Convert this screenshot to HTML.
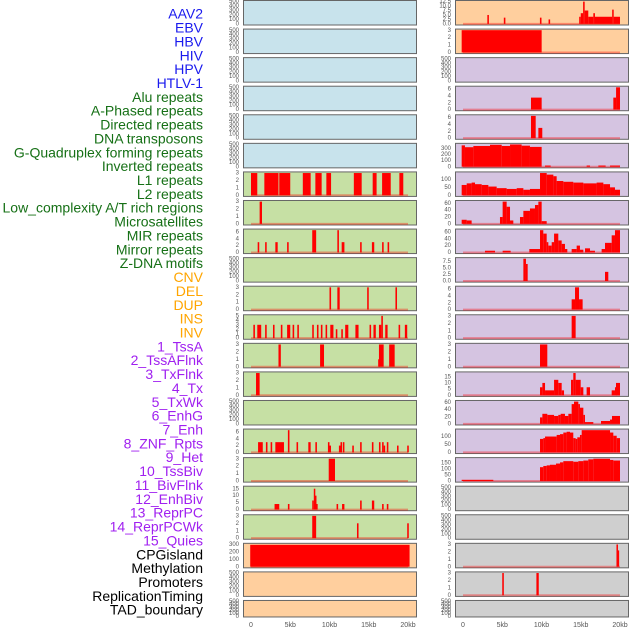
<!DOCTYPE html>
<html><head><meta charset="utf-8"><style>
body{margin:0;background:#fff;}
svg{display:block;font-family:"Liberation Sans",sans-serif;}
</style></head><body>
<svg id="chart" width="630" height="630" viewBox="0 0 630 630"></svg>
<script>
const labels=["AAV2","EBV","HBV","HIV","HPV","HTLV-1","Alu repeats","A-Phased repeats","Directed repeats","DNA transposons","G-Quadruplex forming repeats","Inverted repeats","L1 repeats","L2 repeats","Low_complexity A/T rich regions","Microsatellites","MIR repeats","Mirror repeats","Z-DNA motifs","CNV","DEL","DUP","INS","INV","1_TssA","2_TssAFlnk","3_TxFlnk","4_Tx","5_TxWk","6_EnhG","7_Enh","8_ZNF_Rpts","9_Het","10_TssBiv","11_BivFlnk","12_EnhBiv","13_ReprPC","14_ReprPCWk","15_Quies","CPGisland","Methylation","Promoters","ReplicationTiming","TAD_boundary"];
const labelColors=["#1a1aee","#1a1aee","#1a1aee","#1a1aee","#1a1aee","#1a1aee","#167016","#167016","#167016","#167016","#167016","#167016","#167016","#167016","#167016","#167016","#167016","#167016","#167016","#ffa500","#ffa500","#ffa500","#ffa500","#ffa500","#a020f0","#a020f0","#a020f0","#a020f0","#a020f0","#a020f0","#a020f0","#a020f0","#a020f0","#a020f0","#a020f0","#a020f0","#a020f0","#a020f0","#a020f0","#000","#000","#000","#000","#000"];
const xTickValues=[0,5,10,15,20];
const xTickLabels=["0","5kb","10kb","15kb","20kb"];
const leftBg=["#c8e3ec","#c8e3ec","#c8e3ec","#c8e3ec","#c8e3ec","#c8e3ec","#c6e0a4","#c6e0a4","#c6e0a4","#c6e0a4","#c6e0a4","#c6e0a4","#c6e0a4","#c6e0a4","#c6e0a4","#c6e0a4","#c6e0a4","#c6e0a4","#c6e0a4","#ffcf9e","#ffcf9e","#ffcf9e"];
const rightBg=["#ffcf9e","#ffcf9e","#d5c4e1","#d5c4e1","#d5c4e1","#d5c4e1","#d5c4e1","#d5c4e1","#d5c4e1","#d5c4e1","#d5c4e1","#d5c4e1","#d5c4e1","#d5c4e1","#d5c4e1","#d5c4e1","#d5c4e1","#cfcfcf","#cfcfcf","#cfcfcf","#cfcfcf","#cfcfcf"];
const E=[0,100,200,300,400,500], T3=[0,1,2,3], T6=[0,2,4,6];
const leftTicks=[E,E,E,E,E,E,T3,T3,T6,E,T3,[0,1,2,3,4,5],T3,T3,E,T6,T3,[0,5,10,15],T3,[0,100,200,300],E,E];
const leftMax=[500,500,500,500,500,500,3,3,6.5,500,3,5,3,3,500,6.5,3,16,3,300,500,500];
const leftBars=[[],[],[],[],[],[],
[[0,0.8,3],[1.7,3.5,3],[3.6,5.0,3],[6.6,7.6,3],[8.2,9.0,3],[9.6,10.2,3],[13.1,14.1,3],[15.5,16.0,3],[16.7,17.8,3],[18.9,19.4,3]],
[[1.1,1.4,3]],
[[0.85,1.05,3],[1.8,2.0,3],[3.1,3.4,3],[4.6,4.8,3],[7.8,8.3,6.5],[11.0,11.2,6.5],[11.55,11.9,3],[13.9,14.1,3],[15.4,15.7,3],[16.7,16.9,3],[17.4,17.6,3]],
[],
[[10.0,10.2,3],[11.0,11.3,3],[14.8,15.0,3],[18.4,18.6,3]],
[[0.3,0.5,3],[0.8,1.3,3],[1.8,2.0,3],[2.8,3.0,3],[3.8,4.0,3],[4.6,5.0,3],[5.3,5.5,3],[5.9,6.1,3],[7.8,8.0,3],[8.4,8.6,3],[8.9,9.1,3],[9.5,9.7,3],[10.1,10.5,3],[10.8,11.0,2],[11.5,11.7,2],[12.0,12.4,3],[13.3,13.7,3],[15.1,15.3,3],[15.6,15.9,3],[16.3,16.6,3],[16.6,16.8,5],[17.1,17.4,3],[18.8,19.0,3],[19.6,19.9,3]],
[[3.5,3.8,3],[8.8,9.3,3],[16.2,16.3,1],[16.3,16.9,3],[17.6,18.3,3]],
[[0.64,1.1,3]],
[],
[[0.9,1.5,3],[1.9,2.1,3],[2.5,2.7,3],[3.1,4.2,3],[4.7,4.9,6.5],[5.8,6.0,3],[7.3,7.6,3],[8.2,8.4,3],[9.8,10.0,3],[10.0,10.1,2],[11.2,11.4,2],[11.4,11.6,3],[11.7,11.9,3],[12.9,13.1,2],[13.9,14.1,3],[15.4,15.6,3],[16.3,16.5,3],[16.7,16.9,3],[16.9,17.0,2],[17.3,17.5,3],[18.6,18.8,2],[19.9,20.1,2]],
[[9.9,10.7,3]],
[[3.0,3.6,4],[4.7,4.9,4],[7.8,8.0,6.5],[8.0,8.15,15],[8.15,8.3,10],[8.3,8.4,4],[10.9,11.1,4],[11.6,11.9,4],[13.9,14.1,6.5],[15.4,15.7,6.5],[16.7,16.9,4],[17.3,17.5,4]],
[[7.8,8.3,3],[13.5,13.7,2],[19.9,20.1,2]],
[[-0.1,20.2,295]],
[],[]];
const rightTicks=[[0,2.5,5,7.5,10,12.5],T3,E,T6,T6,[0,100,200,300],[0,50,100],[0,20,40,60],[0,20,40,60],[0,2.5,5,7.5],T6,T3,T3,[0,5,10,15],[0,20,40,60],[0,50,100],[0,50,100,150],E,E,T3,T3,E];
const rightTickLabels=[["0.0","2.5","5.0","7.5","10.0","12.5"],null,null,null,null,null,null,null,null,["0.0","2.5","5.0","7.5"],null,null,null,null,null,null,null,null,null,null,null,null];
const rightMax=[12.5,3,500,6.5,6.5,365,140,65,65,8.5,6.5,3,3,18,62,140,185,500,500,3,3,500];
const rightBars=[
[[3.1,3.3,5],[5.2,5.4,3.5],[9.8,10.0,3.5],[10.9,11.1,2.5],[14.8,15.0,4],[15.0,15.3,6],[15.3,15.5,12.5],[15.5,15.96,7.5],[15.96,16.6,4],[16.6,16.81,6],[16.81,19.0,4],[19.0,19.2,8],[19.2,20.0,4]],
[[-0.17,10.02,3]],
[],
[[8.66,10.02,3.5],[19.15,19.5,3.5],[19.5,20,6.5]],
[[8.66,9.26,6.5],[9.6,10.1,3]],
[[-0.17,0.25,350],[0.25,1.32,320],[1.32,3.44,340],[3.44,4.93,360],[4.93,5.99,340],[5.99,7.47,365],[7.47,8.53,345],[8.53,10.02,325],[10.45,11.17,20],[15.75,16.18,20],[17.24,18.17,20],[18.73,20,20]],
[[-0.17,0.47,65],[0.47,1.1,75],[1.1,1.53,80],[1.53,2.38,70],[2.38,3.23,65],[3.23,4.29,55],[4.29,5.56,45],[5.56,6.84,40],[6.84,7.69,45],[7.69,8.53,35],[8.53,9.81,40],[9.81,10.66,140],[10.66,11.51,130],[11.51,11.93,120],[11.93,12.78,90],[12.78,14.05,85],[14.05,15.33,80],[15.33,17.02,75],[17.02,17.88,80],[17.88,18.73,70],[18.73,19.36,50],[19.36,20,35]],
[[-0.17,0.47,12],[0.47,1.1,10],[4.71,5.05,20],[5.05,5.56,65],[5.56,5.99,50],[5.99,6.41,10],[7.26,7.69,20],[7.69,8.53,38],[8.53,9.17,45],[9.17,9.6,55],[9.6,10.02,65],[10.02,10.66,8]],
[[2.8,4.08,5],[5.05,6.07,5],[8.45,9.81,10],[9.81,10.23,65],[10.23,10.66,55],[10.66,10.87,30],[10.87,11.3,20],[11.3,11.6,30],[11.6,12.14,55],[12.14,12.57,35],[12.57,12.99,25],[12.99,13.29,10],[13.84,14.48,10],[14.48,14.9,20],[14.9,15.33,8],[15.54,16.18,12],[16.18,16.81,5],[17.66,18.09,10],[18.09,18.94,28],[18.94,19.36,50],[19.36,20,65]],
[[7.69,8.02,8.5],[8.02,8.24,6.5],[18.09,18.51,3.5]],
[[13.84,14.27,3],[14.27,14.78,6.5],[14.78,15.24,3]],
[[13.84,14.35,3]],
[[9.81,10.74,3]],
[[9.81,10.11,6.5],[10.11,10.45,10],[10.45,11.6,4],[11.6,12.14,12.5],[12.14,12.57,10],[12.57,12.87,4],[13.76,14.05,12.5],[14.05,14.35,18],[14.35,14.99,12.5],[14.99,15.33,6.5],[15.75,16.18,6.5],[18.94,19.36,4],[19.36,19.49,6.5],[19.49,20,10]],
[[9.81,10.11,18],[10.11,10.74,28],[10.74,11.6,25],[11.6,12.14,22],[12.14,12.44,25],[12.44,12.99,28],[12.99,13.42,22],[13.42,13.84,28],[13.84,14.14,55],[14.14,14.69,62],[14.69,14.9,55],[14.9,15.33,45],[15.33,15.54,25],[15.54,16.6,5],[17.58,18.73,8],[18.73,18.98,12],[18.98,20,22]],
[[9.81,10.23,85],[10.23,10.45,90],[10.45,11.93,100],[11.93,12.36,110],[12.36,12.78,115],[12.78,13.2,125],[13.2,13.63,130],[13.63,14.05,125],[14.05,14.35,90],[14.35,14.56,85],[14.56,14.9,95],[14.9,15.12,110],[15.12,18.73,140],[18.73,19.15,125],[19.15,19.58,105],[19.58,20,90]],
[[-0.17,3.86,10],[9.81,10.23,115],[10.23,10.66,125],[10.66,11.08,130],[11.08,11.85,135],[11.85,12.36,145],[12.36,12.78,155],[12.78,14.05,165],[14.05,14.69,160],[14.69,15.33,165],[15.33,15.96,170],[15.96,16.6,180],[16.6,18.73,185],[18.73,19.15,175],[19.15,20,170]],
[],[],
[[19.55,19.7,3],[19.7,19.85,2.2]],
[[5.0,5.2,3],[9.35,9.65,3]],
[]];

const NS="http://www.w3.org/2000/svg";
const svg=document.getElementById('chart');
function mk(tag,attrs,parent){const e=document.createElementNS(NS,tag);for(const k in attrs)e.setAttribute(k,attrs[k]);(parent||svg).appendChild(e);return e;}

const labelStep=(611-15)/(labels.length-1);
labels.forEach((t,i)=>{
  const el=mk('text',{x:203,y:15+i*labelStep,'font-size':14,'text-anchor':'end','dominant-baseline':'middle',fill:labelColors[i]});
  el.textContent=t;
  
  
});

const cols=[{x0:243,w:173,bg:leftBg,ticks:leftTicks,tl:null,max:leftMax,bars:leftBars,name:'left'},
            {x0:455,w:173,bg:rightBg,ticks:rightTicks,tl:rightTickLabels,max:rightMax,bars:rightBars,name:'right'}];
cols.forEach(c=>{
  const xs=k=>c.x0+8+k*7.85;
  for(let i=0;i<22;i++){
    const top=i*28.57+0.5, h=(i==21?16.5:24.5);
    const g=mk('g',{});
    
    
    const bgEl=mk('rect',{x:c.x0+0.5,y:top,width:c.w,height:h,fill:c.bg[i],stroke:'#666','stroke-width':1},g);
    
    
    const M=c.max[i], lo=-0.05*M, hi=1.05*M;
    const ys=v=>top+h-(v-lo)/(hi-lo)*h;
    const bars=c.bars[i];
    if(bars.length){
      const bl=mk('line',{x1:xs(0),x2:xs(20),y1:ys(0),y2:ys(0),stroke:'rgba(255,0,0,0.35)','stroke-width':2},g);
      
      
    }
    bars.forEach(b=>{
      const x1=xs(b[0]), x2=xs(b[1]);
      const r=mk('rect',{x:x1,y:ys(b[2]),width:Math.max(1.5,x2-x1),height:ys(0)-ys(b[2]),fill:'#ff0000'},g);
      
      
    });
    c.ticks[i].forEach((tv,j)=>{
      const lab=(c.tl&&c.tl[i])?c.tl[i][j]:String(tv);
      const t=mk('text',{x:c.x0-4,y:ys(tv),'font-size':6,'text-anchor':'end','dominant-baseline':'middle',fill:'#555'},g);
      t.textContent=lab;
      
      
    });
  }
  xTickValues.forEach((v,j)=>{
    const t=mk('text',{x:xs(v),y:627,'font-size':7,'text-anchor':'middle',fill:'#555'});
    t.textContent=xTickLabels[j];
    
    
  });
});
</script>
</body></html>
